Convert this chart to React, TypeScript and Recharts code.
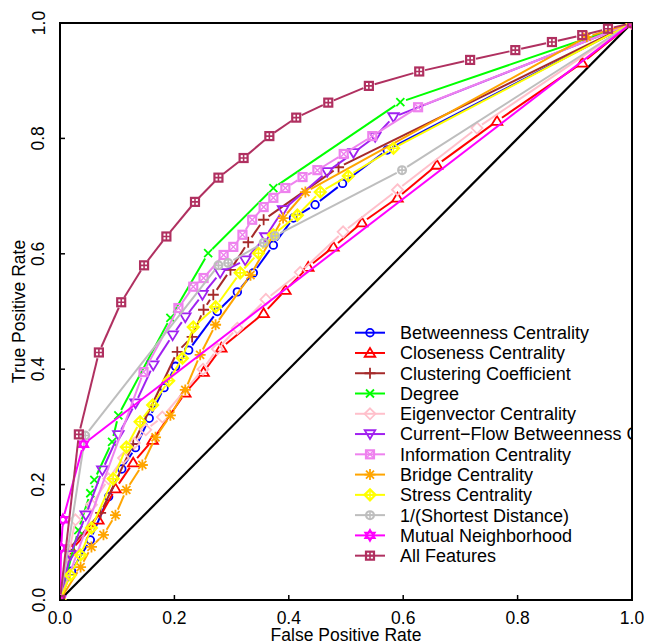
import { LineChart, Line, XAxis, YAxis, ReferenceArea } from 'recharts';

const axisTicks = [0, 0.2, 0.4, 0.6, 0.8, 1];
const tickLabels = ['0.0', '0.2', '0.4', '0.6', '0.8', '1.0'];

const betweennessFpr = [0, 0.02, 0.053, 0.085, 0.108, 0.132, 0.156, 0.182, 0.202, 0.225, 0.275, 0.31, 0.338, 0.373, 0.408, 0.446, 0.494, 0.572, 1];
const betweennessTpr = [0, 0.05, 0.104, 0.179, 0.227, 0.264, 0.315, 0.368, 0.405, 0.433, 0.5, 0.534, 0.567, 0.615, 0.662, 0.685, 0.722, 0.78, 1];

const closenessFpr = [0, 0.02, 0.067, 0.097, 0.128, 0.162, 0.219, 0.251, 0.282, 0.356, 0.394, 0.434, 0.478, 0.528, 0.59, 0.659, 0.764, 0.913, 1];
const closenessTpr = [0, 0.087, 0.139, 0.193, 0.238, 0.277, 0.359, 0.395, 0.437, 0.497, 0.537, 0.577, 0.612, 0.654, 0.697, 0.754, 0.83, 0.931, 1];

const clusteringFpr = [0, 0.015, 0.071, 0.128, 0.205, 0.231, 0.251, 0.268, 0.298, 0.329, 0.356, 0.487, 1];
const clusteringTpr = [0, 0.087, 0.151, 0.27, 0.43, 0.456, 0.503, 0.529, 0.572, 0.62, 0.659, 0.75, 1];

const degreeFpr = [0, 0.032, 0.053, 0.06, 0.091, 0.102, 0.193, 0.259, 0.373, 0.595, 1];
const degreeTpr = [0, 0.121, 0.185, 0.208, 0.274, 0.32, 0.489, 0.601, 0.714, 0.863, 1];

const eigenvectorFpr = [0, 0.027, 0.055, 0.085, 0.111, 0.13, 0.15, 0.179, 0.25, 0.275, 0.31, 0.36, 0.42, 0.495, 0.59, 0.729, 1];
const eigenvectorTpr = [0, 0.139, 0.165, 0.21, 0.246, 0.272, 0.295, 0.317, 0.4, 0.435, 0.471, 0.521, 0.568, 0.638, 0.711, 0.818, 1];

const currentFlowFpr = [0, 0.018, 0.045, 0.074, 0.102, 0.132, 0.163, 0.197, 0.219, 0.249, 0.28, 0.324, 0.359, 0.39, 0.467, 0.513, 0.551, 0.583, 1];
const currentFlowTpr = [0, 0.078, 0.147, 0.225, 0.286, 0.341, 0.407, 0.459, 0.49, 0.529, 0.567, 0.589, 0.629, 0.676, 0.742, 0.775, 0.803, 0.837, 1];

const informationFpr = [0, 0.146, 0.207, 0.233, 0.251, 0.286, 0.303, 0.319, 0.336, 0.356, 0.373, 0.394, 0.424, 0.45, 0.496, 0.546, 0.626, 1];
const informationTpr = [0, 0.395, 0.506, 0.543, 0.558, 0.598, 0.612, 0.633, 0.659, 0.681, 0.697, 0.714, 0.733, 0.745, 0.773, 0.804, 0.854, 1];

const bridgeFpr = [0, 0.036, 0.055, 0.076, 0.097, 0.116, 0.144, 0.167, 0.193, 0.219, 0.245, 0.272, 0.333, 0.39, 0.429, 0.921, 1];
const bridgeTpr = [0, 0.057, 0.092, 0.113, 0.147, 0.191, 0.234, 0.282, 0.32, 0.364, 0.425, 0.477, 0.563, 0.662, 0.707, 0.976, 1];

const stressFpr = [0, 0.018, 0.036, 0.055, 0.093, 0.116, 0.14, 0.162, 0.19, 0.214, 0.233, 0.272, 0.315, 0.347, 0.373, 0.415, 0.455, 0.504, 0.583, 1];
const stressTpr = [0, 0.043, 0.078, 0.125, 0.21, 0.265, 0.309, 0.338, 0.38, 0.419, 0.473, 0.508, 0.567, 0.601, 0.633, 0.667, 0.707, 0.735, 0.783, 1];

const shortestFpr = [0, 0.044, 0.277, 0.294, 0.356, 0.376, 0.598, 1];
const shortestTpr = [0, 0.285, 0.58, 0.584, 0.619, 0.631, 0.745, 1];

const mutualFpr = [0, 0.002, 0.005, 0.041, 1];
const mutualTpr = [0, 0.09, 0.139, 0.27, 1];

const allFeaturesFpr = [0, 0.033, 0.068, 0.107, 0.147, 0.186, 0.236, 0.277, 0.321, 0.366, 0.413, 0.469, 0.54, 0.628, 0.717, 0.796, 0.86, 0.913, 0.958, 1];
const allFeaturesTpr = [0, 0.287, 0.429, 0.516, 0.58, 0.63, 0.69, 0.732, 0.766, 0.804, 0.836, 0.862, 0.891, 0.916, 0.936, 0.953, 0.967, 0.979, 0.99, 1];

const diagonalFpr = [0, 1];
const diagonalTpr = [0, 1];

type Shape =
  | 'circle' | 'triUp' | 'plus' | 'cross' | 'diamond' | 'triDown'
  | 'squareX' | 'asterisk' | 'diamondPlus' | 'circlePlus' | 'star' | 'squarePlus';

const zip = (xs: number[], ys: number[]) => xs.map((x, i) => ({ x, y: ys[i] }));

const series: { name: string; color: string; shape: Shape; fpr: number[]; tpr: number[] }[] = [
  { name: 'Betweenness Centrality', color: '#0000FF', shape: 'circle', fpr: betweennessFpr, tpr: betweennessTpr },
  { name: 'Closeness Centrality', color: '#FF0000', shape: 'triUp', fpr: closenessFpr, tpr: closenessTpr },
  { name: 'Clustering Coefficient', color: '#A52A2A', shape: 'plus', fpr: clusteringFpr, tpr: clusteringTpr },
  { name: 'Degree', color: '#00FF00', shape: 'cross', fpr: degreeFpr, tpr: degreeTpr },
  { name: 'Eigenvector Centrality', color: '#FFC0CB', shape: 'diamond', fpr: eigenvectorFpr, tpr: eigenvectorTpr },
  { name: 'Current\u2212Flow Betweenness Centrality', color: '#A020F0', shape: 'triDown', fpr: currentFlowFpr, tpr: currentFlowTpr },
  { name: 'Information Centrality', color: '#EE82EE', shape: 'squareX', fpr: informationFpr, tpr: informationTpr },
  { name: 'Bridge Centrality', color: '#FFA500', shape: 'asterisk', fpr: bridgeFpr, tpr: bridgeTpr },
  { name: 'Stress Centrality', color: '#FFFF00', shape: 'diamondPlus', fpr: stressFpr, tpr: stressTpr },
  { name: '1/(Shortest Distance)', color: '#BEBEBE', shape: 'circlePlus', fpr: shortestFpr, tpr: shortestTpr },
  { name: 'Mutual Neighborhood', color: '#FF00FF', shape: 'star', fpr: mutualFpr, tpr: mutualTpr },
  { name: 'All Features', color: '#B03060', shape: 'squarePlus', fpr: allFeaturesFpr, tpr: allFeaturesTpr },
];

const FONT = '"Liberation Sans", Arial, Helvetica, sans-serif';
const GAP = 6;

function Marker({ shape, x, y, color }: { shape: Shape; x: number; y: number; color: string }) {
  const p = { stroke: color, strokeWidth: 1.8, fill: 'none' };
  const thick = { stroke: color, strokeWidth: 2.2, fill: 'none' };
  const plus = (r: number) => `M${x - r},${y}H${x + r}M${x},${y - r}V${y + r}`;
  const cross = (r: number) => `M${x - r},${y - r}L${x + r},${y + r}M${x - r},${y + r}L${x + r},${y - r}`;
  switch (shape) {
    case 'circle':
      return <circle cx={x} cy={y} r={3.8} {...p} />;
    case 'triUp':
      return <polygon points={`${x},${y - 5} ${x + 5.3},${y + 3.8} ${x - 5.3},${y + 3.8}`} {...p} />;
    case 'triDown':
      return <polygon points={`${x},${y + 5} ${x + 5.3},${y - 3.8} ${x - 5.3},${y - 3.8}`} {...p} />;
    case 'plus':
      return <path d={plus(5.5)} {...p} />;
    case 'cross':
      return <path d={cross(4)} {...p} />;
    case 'diamond':
      return <polygon points={`${x},${y - 5.5} ${x + 5.5},${y} ${x},${y + 5.5} ${x - 5.5},${y}`} {...p} />;
    case 'squareX':
      return (
        <g>
          <rect x={x - 4} y={y - 4} width={8} height={8} {...thick} />
          <path d={cross(4)} {...p} strokeWidth={1.4} />
        </g>
      );
    case 'asterisk':
      return <path d={plus(5.5) + cross(4)} {...p} />;
    case 'diamondPlus':
      return (
        <g>
          <polygon points={`${x},${y - 5.5} ${x + 5.5},${y} ${x},${y + 5.5} ${x - 5.5},${y}`} {...thick} />
          <path d={plus(5.5)} {...p} strokeWidth={1.6} />
        </g>
      );
    case 'circlePlus':
      return (
        <g>
          <circle cx={x} cy={y} r={3.9} {...thick} />
          <path d={plus(3.9)} {...p} strokeWidth={1.6} />
        </g>
      );
    case 'star':
      return (
        <g>
          <polygon points={`${x},${y - 5.5} ${x + 4.8},${y + 2.8} ${x - 4.8},${y + 2.8}`} {...p} />
          <polygon points={`${x},${y + 5.5} ${x + 4.8},${y - 2.8} ${x - 4.8},${y - 2.8}`} {...p} />
        </g>
      );
    case 'squarePlus':
    default:
      return (
        <g>
          <rect x={x - 4} y={y - 4} width={8} height={8} {...thick} />
          <path d={plus(4)} {...p} strokeWidth={1.6} />
        </g>
      );
  }
}

// draws a marker plus the segment to the next point, leaving gaps round the markers
const makeDot = (shape: Shape, color: string) => (props: any) => {
  const { cx, cy, index, points } = props;
  if (cx == null || cy == null) return <g key={`d-${index}`} />;
  const next = points ? points[index + 1] : null;
  let seg = null;
  if (next && next.x != null) {
    const dx = next.x - cx;
    const dy = next.y - cy;
    const len = Math.hypot(dx, dy);
    if (len > GAP * 2) {
      const ux = dx / len;
      const uy = dy / len;
      seg = (
        <line
          x1={cx + ux * GAP}
          y1={cy + uy * GAP}
          x2={next.x - ux * GAP}
          y2={next.y - uy * GAP}
          stroke={color}
          strokeWidth={2}
        />
      );
    }
  }
  return (
    <g key={`d-${index}`}>
      {seg}
      <Marker shape={shape} x={cx} y={cy} color={color} />
    </g>
  );
};

const XTick = (props: any) => {
  const { x, payload, index } = props;
  return (
    <g>
      <line x1={x} x2={x} y1={600} y2={595} stroke="#000" strokeWidth={1.5} />
      <text x={x} y={624} textAnchor="middle" fontSize={17.5} fontFamily={FONT} fill="#000">
        {tickLabels[index] ?? String(payload.value)}
      </text>
    </g>
  );
};

const YTick = (props: any) => {
  const { y, payload, index } = props;
  return (
    <g>
      <line x1={60} x2={65} y1={y} y2={y} stroke="#000" strokeWidth={1.5} />
      <text
        x={44.5}
        y={y}
        transform={`rotate(-90 44.5 ${y})`}
        textAnchor="middle"
        fontSize={17.5}
        fontFamily={FONT}
        fill="#000"
      >
        {tickLabels[index] ?? String(payload.value)}
      </text>
    </g>
  );
};

export default function App() {
  return (
    <div style={{ position: 'absolute', left: 0, top: 0, width: 645, height: 643, background: '#fff', overflow: 'hidden' }}>
      <LineChart width={645} height={643} margin={{ top: 23, right: 13, bottom: 0, left: 0 }}>
        <XAxis
          type="number"
          dataKey="x"
          domain={[0, 1]}
          ticks={axisTicks}
          height={43}
          axisLine={false}
          tickLine={false}
          tick={<XTick />}
          allowDataOverflow
        />
        <YAxis
          type="number"
          dataKey="y"
          domain={[0, 1]}
          ticks={axisTicks}
          width={60}
          axisLine={false}
          tickLine={false}
          tick={<YTick />}
          allowDataOverflow
        />
        <Line
          data={zip(diagonalFpr, diagonalTpr)}
          dataKey="y"
          stroke="#000"
          strokeWidth={2.2}
          dot={false}
          activeDot={false}
          isAnimationActive={false}
        />
        {series.map((s) => (
          <Line
            key={s.name}
            data={zip(s.fpr, s.tpr)}
            dataKey="y"
            name={s.name}
            stroke="none"
            dot={makeDot(s.shape, s.color)}
            activeDot={false}
            isAnimationActive={false}
          />
        ))}
        <ReferenceArea x1={0} x2={1} y1={0} y2={1} fill="none" stroke="#000" strokeWidth={2} ifOverflow="visible" />
      </LineChart>
      <svg width={645} height={643} style={{ position: 'absolute', left: 0, top: 0, pointerEvents: 'none' }}>
        <defs>
          <clipPath id="legendClip">
            <rect x={340} y={300} width={291} height={280} />
          </clipPath>
        </defs>
        <text x={346} y={641} textAnchor="middle" fontSize={17.5} fontFamily={FONT} fill="#000">
          False Positive Rate
        </text>
        <text
          x={25}
          y={311.5}
          transform="rotate(-90 25 311.5)"
          textAnchor="middle"
          fontSize={17.5}
          fontFamily={FONT}
          fill="#000"
        >
          True Positive Rate
        </text>
        <g clipPath="url(#legendClip)">
          {series.map((s, i) => {
            const cy = 332.7 + i * 20.27;
            return (
              <g key={s.name}>
                <line x1={355} x2={385} y1={cy} y2={cy} stroke={s.color} strokeWidth={2} />
                <Marker shape={s.shape} x={370} y={cy} color={s.color} />
                <text x={400} y={cy + 6.4} fontSize={18} fontFamily={FONT} fill="#000">
                  {s.name}
                </text>
              </g>
            );
          })}
        </g>
      </svg>
    </div>
  );
}
